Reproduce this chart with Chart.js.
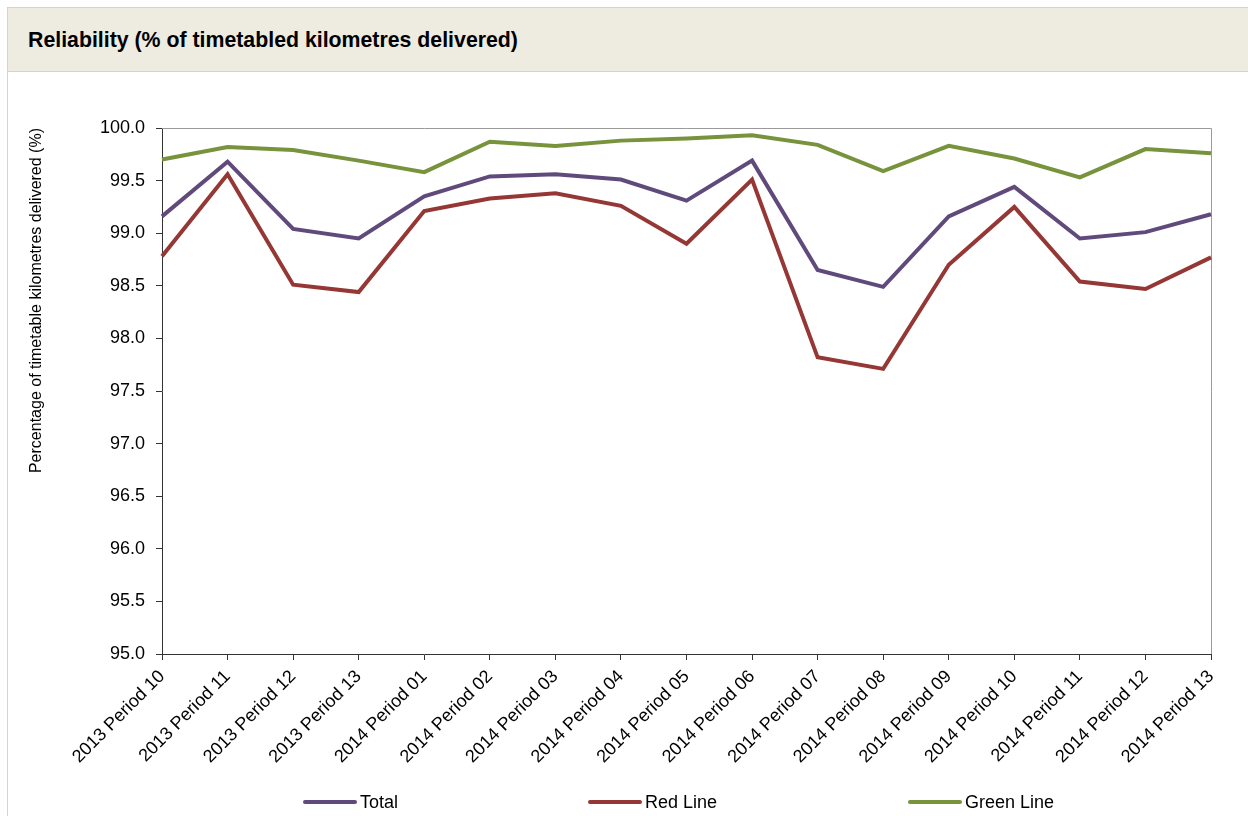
<!DOCTYPE html>
<html>
<head>
<meta charset="utf-8">
<script src="https://cdn.jsdelivr.net/npm/chart.js@4.4.1/dist/chart.umd.min.js"></script>
<style>
    body { margin: 0; background: #fff; font-family: "Liberation Sans", Arial, sans-serif; }
    #header {
        position: absolute; left: 7px; top: 7px; width: 1260px; height: 65px;
        background: #eeebe0; border: 1px solid #d9d4c0; box-sizing: border-box;
    }
    #header h1 { margin: 0; position: absolute; left: 20px; top: 20px; font-size: 21.3px; font-weight: bold; color: #000; }
    #panel {
        position: absolute; left: 7px; top: 72px; width: 1260px; height: 760px;
        border-left: 1px solid #d9d4c0; box-sizing: border-box;
    }
    #wrap { position: absolute; left: 8px; top: 72px; width: 1240px; height: 744px; }
    .legend-item { position: absolute; top: 791px; height: 22px; display: flex; align-items: center; font-size: 18px; color: #000; }
    .legend-item span.swatch { display: inline-block; width: 54px; height: 4px; border-radius: 2px; margin-right: 3px; }
</style>
</head>
<body>
<div id="header"><h1>Reliability (% of timetabled kilometres delivered)</h1></div>
<div id="panel"></div>
<div id="wrap"><canvas id="lineChart"></canvas></div>
<div id="legend"></div>
<script>
const periods = [
    '2013 Period 10', '2013 Period 11', '2013 Period 12', '2013 Period 13',
    '2014 Period 01', '2014 Period 02', '2014 Period 03', '2014 Period 04',
    '2014 Period 05', '2014 Period 06', '2014 Period 07', '2014 Period 08',
    '2014 Period 09', '2014 Period 10', '2014 Period 11', '2014 Period 12',
    '2014 Period 13'
];

const total = [99.16, 99.68, 99.04, 98.95, 99.35, 99.54, 99.56, 99.51, 99.31, 99.69, 98.65, 98.49, 99.16, 99.44, 98.95, 99.01, 99.18];
const redLine = [98.78, 99.56, 98.51, 98.44, 99.21, 99.33, 99.38, 99.26, 98.90, 99.51, 97.82, 97.71, 98.70, 99.25, 98.54, 98.47, 98.77];
const greenLine = [99.70, 99.82, 99.79, 99.69, 99.58, 99.87, 99.83, 99.88, 99.90, 99.93, 99.84, 99.59, 99.83, 99.71, 99.53, 99.80, 99.76];

const yTicks = [95.0, 95.5, 96.0, 96.5, 97.0, 97.5, 98.0, 98.5, 99.0, 99.5, 100.0];

const FONT = "'Liberation Sans', Arial, sans-serif";

// box around the plot area (top + right edges)
const frame = {
    id: 'frame',
    beforeDatasetsDraw(chart) {
        const a = chart.chartArea;
        const ctx = chart.ctx;
        ctx.save();
        ctx.strokeStyle = '#9a9a9a';
        ctx.lineWidth = 1;
        ctx.beginPath();
        ctx.moveTo(a.left, a.top + 0.5);
        ctx.lineTo(a.right + 0.5, a.top + 0.5);
        ctx.lineTo(a.right + 0.5, a.bottom);
        ctx.stroke();
        ctx.restore();
    }
};

const ctx = document.getElementById('lineChart').getContext('2d');

const lineChart = new Chart(ctx, {
    type: 'line',
    data: {
        labels: periods,
        datasets: [
            { label: 'Total', data: total, borderColor: '#604a7b', backgroundColor: '#604a7b' },
            { label: 'Red Line', data: redLine, borderColor: '#953735', backgroundColor: '#953735' },
            { label: 'Green Line', data: greenLine, borderColor: '#77933c', backgroundColor: '#77933c' }
        ]
    },
    options: {
        responsive: true,
        maintainAspectRatio: false,
        animation: false,
        layout: { padding: { top: 56, right: 37, left: 0, bottom: 0 } },
        elements: {
            line: { borderWidth: 4, tension: 0 },
            point: { radius: 0 }
        },
        plugins: {
            tooltip: { enabled: false },
            legend: { display: false }
        },
        scales: {
            x: {
                offset: false,
                afterFit: (scale) => { scale.height = 162; },
                grid: { display: true, drawOnChartArea: false, drawTicks: true, tickLength: 6, color: '#333' },
                border: { display: true, color: '#333', width: 1 },
                ticks: {
                    autoSkip: false,
                    maxRotation: 45,
                    minRotation: 45,
                    padding: 6,
                    color: '#000',
                    font: { family: FONT, size: 18 }
                }
            },
            y: {
                min: 95,
                max: 100,
                afterBuildTicks: (scale) => { scale.ticks = yTicks.map(v => ({ value: v })); },
                afterFit: (scale) => { scale.width = 154; },
                grid: { display: true, drawOnChartArea: false, drawTicks: true, tickLength: 6, color: '#333' },
                border: { display: true, color: '#333', width: 1 },
                ticks: {
                    padding: 11,
                    color: '#000',
                    font: { family: FONT, size: 18 },
                    callback: (v) => Number(v).toFixed(1)
                },
                title: {
                    display: true,
                    align: 'end',
                    text: 'Percentage of timetable kilometres delivered (%)',
                    color: '#000',
                    padding: { top: 19, bottom: 0 },
                    font: { family: FONT, size: 16 }
                }
            }
        }
    },
    plugins: [frame]
});

// legend laid out like the original report (wide, evenly spaced entries)
const legendLeft = [303, 588, 908];
const legendEl = document.getElementById('legend');
lineChart.data.datasets.forEach((ds, i) => {
    const item = document.createElement('div');
    item.className = 'legend-item';
    item.style.left = legendLeft[i] + 'px';
    item.innerHTML = `<span class="swatch" style="background:${ds.borderColor}"></span>${ds.label}`;
    legendEl.appendChild(item);
});
</script>
</body>
</html>
